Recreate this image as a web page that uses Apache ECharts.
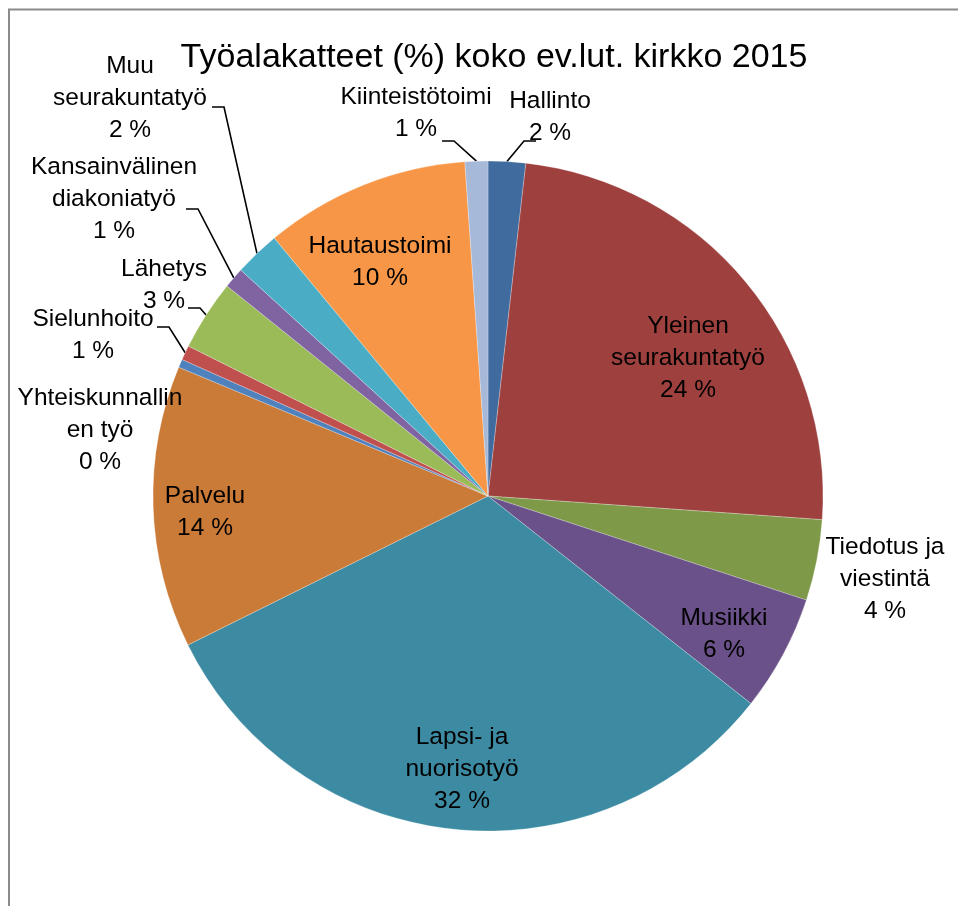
<!DOCTYPE html>
<html><head><meta charset="utf-8">
<script src="https://cdn.jsdelivr.net/npm/echarts@6/dist/echarts.min.js"></script>
<style>html,body{margin:0;padding:0;background:#fff}#chart{width:958px;height:906px}</style>
</head><body><div id="chart"></div>
<script>
// ---------- data ----------
const TITLE = 'Työalakatteet (%) koko ev.lut. kirkko 2015';
const categories = ['Hallinto', 'Yleinen seurakuntatyö', 'Tiedotus ja viestintä', 'Musiikki',
  'Lapsi- ja nuorisotyö', 'Palvelu', 'Yhteiskunnallinen työ', 'Sielunhoito', 'Lähetys',
  'Kansainvälinen diakoniatyö', 'Muu seurakuntatyö', 'Hautaustoimi', 'Kiinteistötoimi'];
const labelTexts = ['Hallinto', 'Yleinen\nseurakuntatyö', 'Tiedotus ja\nviestintä', 'Musiikki',
  'Lapsi- ja\nnuorisotyö', 'Palvelu', 'Yhteiskunnallin\nen työ', 'Sielunhoito', 'Lähetys',
  'Kansainvälinen\ndiakoniatyö', 'Muu\nseurakuntatyö', 'Hautaustoimi', 'Kiinteistötoimi'];
const shares = [1.8, 24.3, 3.9, 5.6, 32.0, 13.6, 0.4, 0.7, 3.4, 1.0, 2.2, 9.9, 1.1];

// ---------- styles / layout ----------
const colors = ['#3F6B9F', '#9E413E', '#7E9A48', '#6A5189', '#3D8BA3', '#CB7B38', '#4F81BD',
  '#C0504D', '#9BBB59', '#8064A2', '#4BACC6', '#F79646', '#A7B9D9'];
const insideLabel = [false, true, false, true, true, true, false, false, false, false, false, true, false];
// label block centres (px)
const labelSpot = [[550, 117], [688, 358], [885, 579], [724, 634], [462, 769], [205, 512],
  [100, 430], [93, 335], [164, 285], [114, 199], [130, 98], [380, 262], [416, 113]];
// leader line end points (null = no leader)
const leaderEnd = [[536, 141], null, null, null, null, null, null, [157, 327], [188, 308],
  [186, 209], [212, 107], null, [442, 141]];

const FONT = 'Liberation Sans';

const chart = echarts.init(document.getElementById('chart'), null, { renderer: 'canvas' });

const data = categories.map((name, i) => ({
  name: name,
  value: shares[i],
  itemStyle: { color: colors[i] },
  label: { position: insideLabel[i] ? 'inside' : 'outside' },
  labelLine: { show: !!leaderEnd[i] }
}));

chart.setOption({
  animation: false,
  title: {
    text: TITLE,
    left: 489,
    top: 36,
    textAlign: 'center',
    textStyle: { fontFamily: FONT, fontSize: 34, fontWeight: 'normal', color: '#000' }
  },
  graphic: [{
    type: 'rect', silent: true, z: -1,
    shape: { x: 9, y: 9.5, width: 2000, height: 2000 },
    style: { fill: null, stroke: '#8a8a8a', lineWidth: 2 }
  }],
  series: [{
    type: 'pie',
    center: [488, 496],
    radius: 335,
    startAngle: 90,
    clockwise: true,
    avoidLabelOverlap: false,
    itemStyle: { borderColor: 'rgba(255,255,255,0.5)', borderWidth: 0.5 },
    emphasis: { disabled: true },
    label: {
      show: true,
      color: '#000',
      fontFamily: FONT,
      fontSize: 24.5,
      lineHeight: 32,
      align: 'center',
      formatter: p => labelTexts[p.dataIndex] + '\n' + Math.round(p.value) + ' %'
    },
    labelLine: {
      length: 20, length2: 12, smooth: false,
      lineStyle: { color: '#000', width: 1.6 }
    },
    labelLayout: function (params) {
      const i = params.dataIndex;
      const spot = labelSpot[i];
      const out = { x: spot[0], y: spot[1], align: 'center', verticalAlign: 'middle' };
      const end = leaderEnd[i];
      if (end && params.labelLinePoints) {
        const s = params.labelLinePoints[0];
        const elbowX = end[0] + (s[0] > end[0] ? 12 : -12);
        out.labelLinePoints = [s, [elbowX, end[1]], end];
      }
      return out;
    },
    data: data
  }]
});
</script>
</body></html>
